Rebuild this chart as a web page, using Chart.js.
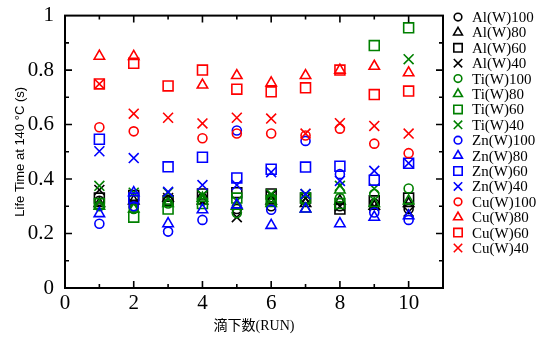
<!DOCTYPE html>
<html>
<head>
<meta charset="utf-8">
<script src="https://cdn.jsdelivr.net/npm/chart.js@4"></script>
<style>
  html, body { margin: 0; padding: 0; background: #fff; }
</style>
</head>
<body>
<canvas id="lifeChart" width="544" height="344"></canvas>
<script>
// run number (x) for every series
const runs = [1, 2, 3, 4, 5, 6, 7, 8, 9, 10];

const labels = [
  "Al(W)100", "Al(W)80", "Al(W)60", "Al(W)40",
  "Ti(W)100", "Ti(W)80", "Ti(W)60", "Ti(W)40",
  "Zn(W)100", "Zn(W)80", "Zn(W)60", "Zn(W)40",
  "Cu(W)100", "Cu(W)80", "Cu(W)60", "Cu(W)40"
];

// life time values (null = no point)
const al100 = [0.32, 0.30, 0.32, 0.33, 0.29, 0.30, 0.32, 0.30, 0.31, 0.29];
const al80 = [0.31, 0.32, 0.33, 0.32, 0.30, 0.32, 0.31, 0.32, 0.30, 0.31];
const al60 = [0.33, 0.34, 0.32, 0.345, 0.35, 0.345, 0.33, 0.29, 0.32, 0.33];
const al40 = [0.36, 0.31, 0.33, 0.34, 0.26, 0.34, 0.33, 0.30, 0.30, 0.28];
const ti100 = [0.30, 0.29, 0.31, 0.32, 0.275, 0.33, 0.32, 0.33, 0.345, 0.365];
const ti80 = [0.30, 0.29, 0.31, 0.33, 0.30, 0.31, 0.29, 0.36, 0.31, 0.32];
const ti60 = [0.31, 0.26, 0.29, 0.31, 0.33, 0.32, 0.33, 0.31, 0.89, 0.955];
const ti40 = [0.375, 0.35, 0.35, 0.34, 0.32, 0.345, 0.345, 0.375, 0.365, 0.84];
const zn100 = [0.236, 0.30, 0.207, 0.25, 0.578, 0.287, 0.54, 0.418, 0.277, 0.25];
const zn80 = [0.273, 0.35, 0.236, 0.287, 0.305, 0.23, 0.29, 0.236, 0.26, 0.265];
const zn60 = [0.546, 0.33, 0.445, 0.48, 0.404, 0.436, 0.444, 0.447, 0.396, 0.458];
const zn40 = [0.502, 0.477, 0.353, 0.378, 0.378, 0.425, 0.345, 0.393, 0.43, 0.458];
const cu100 = [0.59, 0.575, null, 0.55, 0.567, 0.567, 0.56, 0.585, 0.53, 0.495];
const cu80 = [0.851, 0.85, null, 0.745, 0.78, 0.753, 0.78, 0.80, 0.814, 0.79];
const cu60 = [0.749, 0.825, 0.742, 0.80, 0.73, 0.72, 0.735, 0.80, 0.71, 0.723];
const cu40 = [0.749, 0.64, 0.625, 0.604, 0.625, 0.622, 0.567, 0.605, 0.595, 0.567];

const series = [al100, al80, al60, al40, ti100, ti80, ti60, ti40,
  zn100, zn80, zn60, zn40, cu100, cu80, cu60, cu40];
const colors = ["#000000", "#008000", "#0000ff", "#ff0000"];
const shapes = ["circle", "triangle", "rect", "crossRot"];
const sizes = { circle: 4.5, triangle: 6, rect: 7, crossRot: 7 };

const datasets = series.map((vals, i) => {
  const shape = shapes[i % 4];
  const points = [];
  vals.forEach((v, j) => {
    if (v !== null) points.push({ x: runs[j], y: v });
  });
  return {
    label: labels[i],
    data: points,
    pointStyle: shape,
    pointRadius: sizes[shape],
    pointBorderWidth: 1.6,
    borderColor: colors[Math.floor(i / 4)],
    backgroundColor: "rgba(0,0,0,0)",
    order: series.length - i // Cu on top like the original
  };
});

// box around the plot with inward ticks on all four sides
const frameTicks = {
  id: "frameTicks",
  afterDatasetsDraw(chart) {
    const { ctx, chartArea: a, scales } = chart;
    ctx.save();
    ctx.strokeStyle = "#000";
    ctx.lineWidth = 2;
    ctx.strokeRect(a.left, a.top, a.right - a.left, a.bottom - a.top);
    ctx.lineWidth = 1.6;
    ctx.beginPath();
    for (let v = 1; v < 11; v++) {
      const px = scales.x.getPixelForValue(v);
      const len = v % 2 === 0 ? 7 : 4;
      ctx.moveTo(px, a.bottom); ctx.lineTo(px, a.bottom - len);
      ctx.moveTo(px, a.top); ctx.lineTo(px, a.top + len);
    }
    for (let k = 1; k < 10; k++) {
      const py = scales.y.getPixelForValue(k / 10);
      const len = k % 2 === 0 ? 7 : 4;
      ctx.moveTo(a.left, py); ctx.lineTo(a.left + len, py);
      ctx.moveTo(a.right, py); ctx.lineTo(a.right - len, py);
    }
    ctx.stroke();
    ctx.restore();
  }
};

// legend column on the right, drawn from the datasets
const sideLegend = {
  id: "sideLegend",
  afterDraw(chart) {
    const ctx = chart.ctx;
    ctx.save();
    ctx.font = "15px 'Liberation Serif', 'Times New Roman', serif";
    ctx.textAlign = "left";
    ctx.textBaseline = "middle";
    chart.data.datasets.forEach((ds, i) => {
      const y = 17 + i * 15.4;
      ctx.strokeStyle = ds.borderColor;
      ctx.fillStyle = "rgba(0,0,0,0)";
      ctx.lineWidth = 1.6;
      Chart.helpers.drawPoint(ctx, {
        pointStyle: ds.pointStyle,
        radius: ds.pointRadius * 0.85,
        rotation: 0,
        borderWidth: 1.6
      }, 458, y);
      ctx.fillStyle = "#000";
      ctx.fillText(ds.label, 472, y + 1);
    });
    ctx.restore();
  }
};

const tickFont = { family: "'Liberation Serif', 'Times New Roman', serif", size: 21 };

new Chart(document.getElementById("lifeChart"), {
  type: "scatter",
  data: { datasets: datasets },
  options: {
    responsive: false,
    animation: false,
    layout: { padding: { left: 0, right: 101, top: 13, bottom: 0 } },
    plugins: {
      legend: { display: false },
      tooltip: { enabled: false }
    },
    scales: {
      x: {
        type: "linear",
        min: 0,
        max: 11,
        grid: { display: false },
        border: { display: false },
        ticks: { stepSize: 2, includeBounds: false, color: "#000", font: tickFont, padding: -5 },
        title: {
          display: true,
          text: "滴下数(RUN)",
          color: "#000",
          font: { family: "'Liberation Serif', 'Noto Sans CJK JP', serif", size: 14 },
          padding: { top: 0, bottom: 9 }
        },
        afterFit(scale) { scale.height = 56; }
      },
      y: {
        type: "linear",
        min: 0,
        max: 1,
        grid: { display: false },
        border: { display: false },
        ticks: {
          stepSize: 0.2,
          color: "#000",
          font: tickFont,
          padding: 3,
          callback: (v) => String(Math.round(v * 10) / 10)
        },
        title: {
          display: true,
          text: "Life Time at 140 °C (s)",
          color: "#000",
          font: { family: "'Liberation Sans', Arial, sans-serif", size: 13 },
          padding: { top: 13, bottom: 0 }
        },
        afterFit(scale) { scale.width = 65; }
      }
    }
  },
  plugins: [frameTicks, sideLegend]
});
</script>
</body>
</html>
